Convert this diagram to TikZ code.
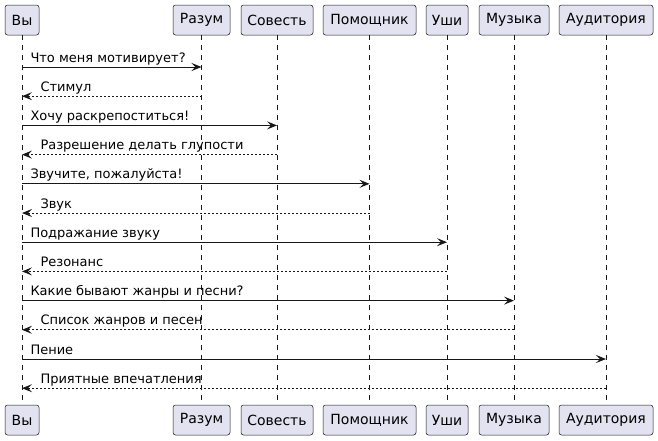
\documentclass[tikz,border=0pt]{standalone}
\usepackage{fontspec}
\setmainfont{DejaVu Sans}
\usetikzlibrary{arrows.meta}
\definecolor{pfill}{HTML}{E2E2F0}
\definecolor{pline}{HTML}{181818}
\tikzset{
  part/.style={draw=pline, line width=0.5pt, fill=pfill, rounded corners=2.5pt,
    minimum height=30pt, inner sep=0pt, font=\fontsize{14pt}{16pt}\selectfont, text=black},
  life/.style={draw=pline, line width=0.5pt, dash pattern=on 5pt off 5pt},
  msg/.style={draw=pline, line width=1pt, -{Stealth[length=10pt,width=8pt,inset=4pt]}},
  ret/.style={msg, dash pattern=on 2pt off 2pt},
  lbl/.style={inner sep=0pt, font=\fontsize{13pt}{15pt}\selectfont, text=black},
}
\begin{document}
\begin{tikzpicture}[x=1pt,y=-1pt]
\useasboundingbox (0,0) rectangle (658,440);
% participants top
\node[part, minimum width=34pt] (vyT) at (22,20) {Вы};
\node[part, minimum width=57pt] (razT) at (201.5,20) {Разум};
\node[part, minimum width=72pt] (sovT) at (277,20) {Совесть};
\node[part, minimum width=93pt] (pomT) at (369.5,20) {Помощник};
\node[part, minimum width=42pt] (ushT) at (447,20) {Уши};
\node[part, minimum width=70pt] (muzT) at (514,20) {Музыка};
\node[part, minimum width=94pt] (audT) at (606,20) {Аудитория};
% participants bottom
\node[part, minimum width=34pt] (vyB) at (22,420) {Вы};
\node[part, minimum width=57pt] (razB) at (201.5,420) {Разум};
\node[part, minimum width=72pt] (sovB) at (277,420) {Совесть};
\node[part, minimum width=93pt] (pomB) at (369.5,420) {Помощник};
\node[part, minimum width=42pt] (ushB) at (447,420) {Уши};
\node[part, minimum width=70pt] (muzB) at (514,420) {Музыка};
\node[part, minimum width=94pt] (audB) at (606,420) {Аудитория};
% lifelines
\foreach \p in {vy,raz,sov,pom,ush,muz,aud}
  \draw[life] (\p T.south) -- (\p B.north);
% message rows
\coordinate (m1) at (0,67);
\coordinate (m2) at (0,96.2);
\coordinate (m3) at (0,125.4);
\coordinate (m4) at (0,154.6);
\coordinate (m5) at (0,183.8);
\coordinate (m6) at (0,213);
\coordinate (m7) at (0,242.2);
\coordinate (m8) at (0,271.4);
\coordinate (m9) at (0,300.6);
\coordinate (m10) at (0,329.8);
\coordinate (m11) at (0,359);
\coordinate (m12) at (0,388.2);
% messages
\draw[msg] (vyT.south |- m1) -- (razT.south |- m1) node[lbl, at start, anchor=base west, xshift=8pt, yshift=5pt] {Что меня мотивирует?};
\draw[ret] (razT.south |- m2) -- (vyT.south |- m2) node[lbl, at end, anchor=base west, xshift=18pt, yshift=5pt] {Стимул};
\draw[msg] (vyT.south |- m3) -- (sovT.south |- m3) node[lbl, at start, anchor=base west, xshift=8pt, yshift=5pt] {Хочу раскрепоститься!};
\draw[ret] (sovT.south |- m4) -- (vyT.south |- m4) node[lbl, at end, anchor=base west, xshift=18pt, yshift=5pt] {Разрешение делать глупости};
\draw[msg] (vyT.south |- m5) -- (pomT.south |- m5) node[lbl, at start, anchor=base west, xshift=8pt, yshift=5pt] {Звучите, пожалуйста!};
\draw[ret] (pomT.south |- m6) -- (vyT.south |- m6) node[lbl, at end, anchor=base west, xshift=18pt, yshift=5pt] {Звук};
\draw[msg] (vyT.south |- m7) -- (ushT.south |- m7) node[lbl, at start, anchor=base west, xshift=8pt, yshift=5pt] {Подражание звуку};
\draw[ret] (ushT.south |- m8) -- (vyT.south |- m8) node[lbl, at end, anchor=base west, xshift=18pt, yshift=5pt] {Резонанс};
\draw[msg] (vyT.south |- m9) -- (muzT.south |- m9) node[lbl, at start, anchor=base west, xshift=8pt, yshift=5pt] {Какие бывают жанры и песни?};
\draw[ret] (muzT.south |- m10) -- (vyT.south |- m10) node[lbl, at end, anchor=base west, xshift=18pt, yshift=5pt] {Список жанров и песен};
\draw[msg] (vyT.south |- m11) -- (audT.south |- m11) node[lbl, at start, anchor=base west, xshift=8pt, yshift=5pt] {Пение};
\draw[ret] (audT.south |- m12) -- (vyT.south |- m12) node[lbl, at end, anchor=base west, xshift=18pt, yshift=5pt] {Приятные впечатления};
\end{tikzpicture}
\end{document}
